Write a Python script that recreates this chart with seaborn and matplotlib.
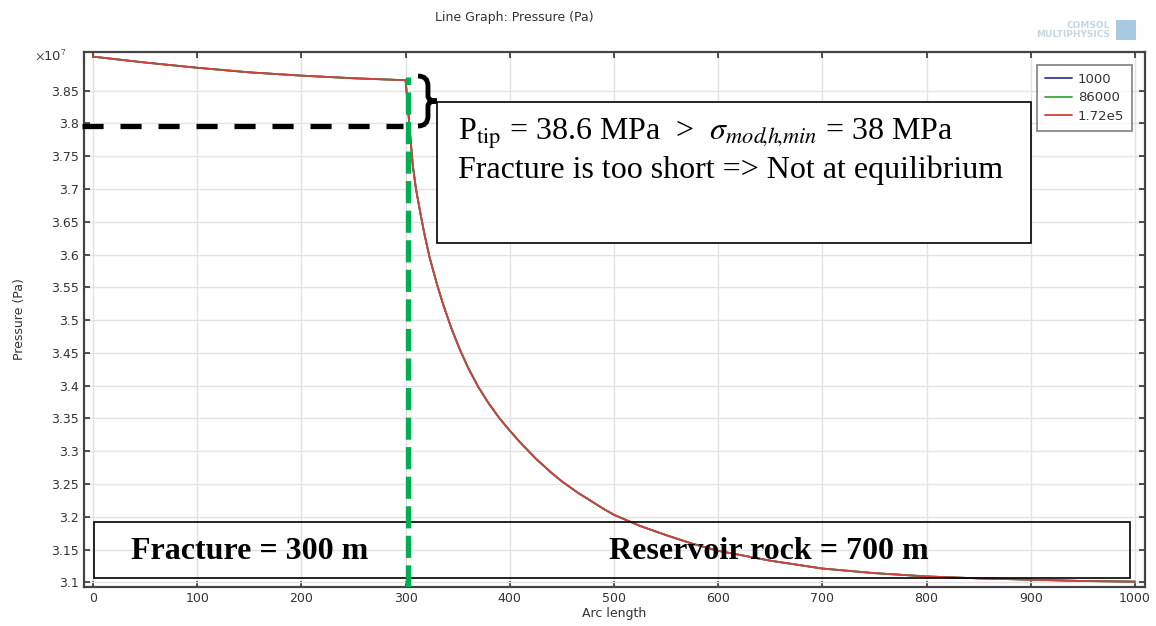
import numpy as np
import pandas as pd
import matplotlib
matplotlib.use('Agg')
import matplotlib.pyplot as plt
import seaborn as sns
from matplotlib.path import Path
from matplotlib.patches import PathPatch, Rectangle
from matplotlib.ticker import FuncFormatter

# arc length (m) and pressure (Pa)
arc = [0, 50, 100, 150, 200, 250, 300, 302, 304, 307, 310, 314, 318, 323, 330, 336, 344,
       352, 360, 370, 380, 390, 400, 410, 425, 440, 450, 465, 475, 490, 500, 525, 550,
       575, 600, 650, 700, 750, 800, 850, 900, 950, 1000]
pressure = [3.902e7, 3.893e7, 3.885e7, 3.878e7, 3.873e7, 3.869e7, 3.866e7, 3.83e7, 3.79e7,
            3.735e7, 3.70e7, 3.665e7, 3.632e7, 3.596e7, 3.5554e7, 3.5242e7, 3.4874e7,
            3.4554e7, 3.4274e7, 3.3974e7, 3.3724e7, 3.3504e7, 3.3314e7, 3.3134e7, 3.2887e7,
            3.267e7, 3.254e7, 3.237e7, 3.227e7, 3.212e7, 3.203e7, 3.186e7, 3.172e7,
            3.159e7, 3.148e7, 3.133e7, 3.121e7, 3.114e7, 3.109e7, 3.106e7, 3.104e7,
            3.102e7, 3.101e7]
times = ['1000', '86000', '1.72e5']
colors = ['#3a3a9a', '#3aaa3a', '#d0403c']
yticks = [3.1e7, 3.15e7, 3.2e7, 3.25e7, 3.3e7, 3.35e7, 3.4e7, 3.45e7, 3.5e7, 3.55e7,
          3.6e7, 3.65e7, 3.7e7, 3.75e7, 3.8e7, 3.85e7]
xticks = [0, 100, 200, 300, 400, 500, 600, 700, 800, 900, 1000]

df = pd.concat([pd.DataFrame({'arc': arc, 'p': pressure, 't': t}) for t in times])

sns.set_style('ticks')
plt.rcParams['font.family'] = ['DejaVu Sans']
plt.rcParams['mathtext.fontset'] = 'stix'

fig = plt.figure(figsize=(11.56, 6.26), dpi=100)
ax = fig.add_axes([84/1156, 1-586.7/626, (1145-84)/1156, (586.7-51.7)/626])

sns.lineplot(data=df, x='arc', y='p', hue='t', hue_order=times,
             palette=dict(zip(times, colors)), lw=1.3, ax=ax, legend=True)

ax.set_xlim(-8.6, 1009.6)
ax.set_ylim(3.0933e7, 3.9095e7)
ax.set_xticks(xticks)
ax.set_yticks(yticks)
ax.yaxis.set_major_formatter(FuncFormatter(lambda v, pos: f'{v/1e7:g}'))
ax.grid(True, color='#e2e2e2', lw=1)
ax.tick_params(direction='in', length=4, width=1.2, colors='#333333', labelsize=9,
               top=True, right=True, labeltop=False, labelright=False)
for s in ax.spines.values():
    s.set_color('#444444')
    s.set_linewidth(1.6)
ax.set_xlabel('Arc length', fontsize=9, color='#333333', labelpad=2)
ax.set_ylabel('Pressure (Pa)', fontsize=9, color='#333333', labelpad=18)

leg = ax.legend(loc='upper right', bbox_to_anchor=(0.9877, 0.9751), borderaxespad=0,
                fontsize=9.5, frameon=True, fancybox=False, handlelength=2.1,
                borderpad=0.6, labelspacing=0.42, handletextpad=0.4)
leg.get_frame().set_edgecolor('#777777')
leg.get_frame().set_linewidth(1.4)
for t in leg.get_texts():
    t.set_color('#333333')

fig.text(514/1156, 1-17/626, 'Line Graph: Pressure (Pa)', ha='center', va='center',
         fontsize=9, color='#333333')
fig.text(35/1156, 1-55/626, r'$\times$10$^7$', ha='left', va='center', fontsize=9.5,
         color='#333333', family='DejaVu Sans')
fig.text(1110/1156, 1-30/626, 'COMSOL\nMULTIPHYSICS', ha='right', va='center',
         fontsize=6.5, color='#c4d6e6', linespacing=0.9, fontweight='bold')
fig.patches.append(Rectangle((1116/1156, 1-40/626), 20/1156, 20/626, transform=fig.transFigure,
                             facecolor='#a8c9df', edgecolor='none'))


def px(x):
    return (x - 93) / 1.042


def py(y):
    return (3.85 + (90.7 - y) / 655.5) * 1e7


# dashed guides
ax.plot([px(82), px(403)], [py(126), py(126)], color='black', lw=3.8, ls=(0, (4.0, 3.2)),
        zorder=5, clip_on=False)
ax.plot([px(408), px(408)], [py(586.7), py(77)], color='#00b050', lw=3.8, ls=(0, (4.2, 1.4)),
        zorder=6)

# curly brace
verts = [(418, 76), (428, 76), (428, 86), (428, 96), (428, 101), (437, 101),
         (428, 101), (428, 106), (428, 116), (428, 126), (418, 126)]
verts = [(px(a), py(b)) for a, b in verts]
codes = [Path.MOVETO, Path.CURVE3, Path.CURVE3, Path.LINETO, Path.CURVE3, Path.CURVE3,
         Path.CURVE3, Path.CURVE3, Path.LINETO, Path.CURVE3, Path.CURVE3]
ax.add_patch(PathPatch(Path(verts, codes), facecolor='none', edgecolor='black', lw=3.5,
                       zorder=7))

# text box
ax.add_patch(Rectangle((px(437), py(243)), px(1031) - px(437), py(102) - py(243),
                       facecolor='white', edgecolor='black', lw=1.2, zorder=4))
serif = ['Liberation Serif', 'DejaVu Serif']
ax.text(px(458), py(134),
        r'P$_{\rm tip}$ = 38.6 MPa  >  $\sigma_{\mathit{mod}\!,\!\mathit{h}\!,\!\mathit{min}}$ = 38 MPa',
        ha='left', va='center', fontsize=23, family=serif, color='black', zorder=8)
ax.text(px(458), py(170), 'Fracture is too short => Not at equilibrium',
        ha='left', va='center', fontsize=23, family=serif, color='black', zorder=8)

# bottom labels box
ax.add_patch(Rectangle((px(94), py(578)), px(1130) - px(94), py(522) - py(578),
                       facecolor='none', edgecolor='black', lw=1.2, zorder=4))
ax.text(px(250), py(552), 'Fracture = 300 m', ha='center', va='center', fontsize=23,
        fontweight='bold', family=serif, color='black', zorder=8)
ax.text(px(769), py(552), 'Reservoir rock = 700 m', ha='center', va='center', fontsize=23,
        fontweight='bold', family=serif, color='black', zorder=8)

fig.savefig('out.png', dpi=100)
